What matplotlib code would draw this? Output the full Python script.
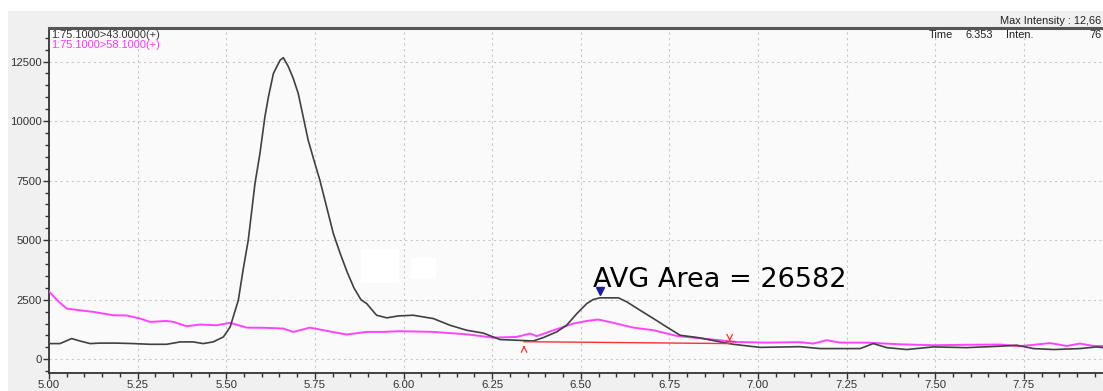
import matplotlib.pyplot as plt
from matplotlib.patches import Rectangle
from matplotlib.ticker import MultipleLocator

# m/z 75.1 > 43.0 trace (black)
t_43 = [5.000, 5.031, 5.064, 5.087, 5.116, 5.144, 5.190, 5.238, 5.285, 5.332, 5.370,
        5.407, 5.435, 5.463, 5.492, 5.511, 5.534, 5.548, 5.562, 5.581, 5.595, 5.609,
        5.619, 5.633, 5.652, 5.661, 5.675, 5.689, 5.703, 5.717, 5.731, 5.750, 5.764,
        5.783, 5.802, 5.820, 5.840, 5.860, 5.880, 5.896, 5.924, 5.953, 5.985, 6.027,
        6.084, 6.131, 6.178, 6.225, 6.272, 6.319, 6.366, 6.394, 6.432, 6.460, 6.489,
        6.517, 6.535, 6.554, 6.606, 6.630, 6.667, 6.705, 6.742, 6.780, 6.836, 6.893,
        6.930, 7.006, 7.118, 7.175, 7.250, 7.288, 7.325, 7.363, 7.419, 7.494, 7.588,
        7.683, 7.730, 7.777, 7.833, 7.908, 7.955, 7.973]
i_43 = [660, 660, 870, 770, 660, 680, 680, 660, 630, 630, 730,
        730, 660, 730, 940, 1360, 2480, 3800, 5000, 7380, 8640, 10180,
        11020, 12000, 12560, 12660, 12290, 11790, 11160, 10180, 9200, 8220, 7520,
        6400, 5280, 4500, 3700, 3000, 2500, 2340, 1850, 1740, 1820, 1850,
        1710, 1430, 1220, 1100, 830, 800, 770, 910, 1150, 1430, 1920,
        2340, 2510, 2580, 2580, 2410, 2060, 1710, 1360, 1010, 900, 730,
        630, 500, 530, 450, 450, 450, 660, 490, 410, 520, 490,
        550, 590, 450, 410, 450, 520, 490]

# m/z 75.1 > 58.1 trace (magenta)
t_58 = [5.000, 5.025, 5.050, 5.087, 5.125, 5.181, 5.219, 5.257, 5.285, 5.332, 5.351,
        5.388, 5.426, 5.473, 5.511, 5.558, 5.614, 5.661, 5.689, 5.736, 5.774, 5.840,
        5.896, 5.943, 5.990, 6.084, 6.178, 6.253, 6.319, 6.357, 6.376, 6.423, 6.479,
        6.517, 6.549, 6.592, 6.648, 6.705, 6.771, 6.836, 6.893, 6.930, 7.025, 7.118,
        7.156, 7.194, 7.231, 7.306, 7.400, 7.494, 7.588, 7.683, 7.739, 7.824, 7.871,
        7.908, 7.946, 7.973]
i_58 = [2850, 2450, 2130, 2060, 1990, 1850, 1840, 1710, 1570, 1610, 1570,
        1390, 1460, 1430, 1530, 1330, 1320, 1290, 1150, 1330, 1220, 1040,
        1150, 1150, 1180, 1150, 1050, 910, 940, 1080, 970, 1220, 1500,
        1610, 1670, 1530, 1330, 1220, 980, 880, 800, 730, 700, 720,
        660, 800, 700, 700, 630, 590, 610, 620, 550, 680, 560,
        660, 560, 560]

# integration of the 6.55 min peak
peak_start = (6.34, 740)
peak_end = (6.92, 660)
peak_top = (6.553, 2860)
avg_area = 26582

fig = plt.figure(figsize=(11.03, 3.91), dpi=100, facecolor='white')
fig.patches.append(Rectangle((8 / 1103, 0), 1, 380 / 391, transform=fig.transFigure,
                             facecolor='#f0f0f0', edgecolor='none', zorder=-1))
ax = fig.add_axes([49 / 1103, 18 / 391, 1 - 49 / 1103, 345 / 391])
ax.set_facecolor('#fafafa')

ax.plot(t_58, i_58, color='#ff44ff', lw=1.4, zorder=3)
ax.plot(t_43, i_43, color='#404040', lw=1.2, zorder=4)

# baseline and peak markers
ax.plot([peak_start[0], peak_end[0]], [peak_start[1], peak_end[1]], color='#ff3030', lw=1.0, zorder=5)
ax.plot(peak_top[0], peak_top[1], marker='v', color='#1c1c9c', ms=6, zorder=6)
ax.annotate('', xy=(peak_start[0], peak_start[1] - 40), xytext=(peak_start[0], peak_start[1] - 330),
            arrowprops=dict(arrowstyle='->', color='#ff3030', lw=0.9), zorder=6)
ax.annotate('', xy=(peak_end[0], peak_end[1] - 20), xytext=(peak_end[0], peak_end[1] + 250),
            arrowprops=dict(arrowstyle='->', color='#ff3030', lw=0.9), zorder=6)
ax.plot(peak_end[0], peak_end[1] + 110, marker='_', color='#ff3030', ms=7, mew=1.0, zorder=6)

ax.text(6.535, 3030, f'AVG Area = {avg_area}', fontsize=19.5, family='DejaVu Sans',
        color='black', va='baseline', ha='left', zorder=7)

# white boxes over the trace area
ax.add_patch(Rectangle((5.880, 3193), 0.107, 1429, facecolor='white', edgecolor='none', zorder=8))
ax.add_patch(Rectangle((6.021, 3361), 0.071, 883, facecolor='white', edgecolor='none', zorder=8))

ax.set_xlim(5.0, 7.973)
ax.set_ylim(-575, 13907)
ax.xaxis.set_major_locator(MultipleLocator(0.25))
ax.xaxis.set_minor_locator(MultipleLocator(0.05))
ax.yaxis.set_major_locator(MultipleLocator(2500))
ax.yaxis.set_minor_locator(MultipleLocator(500))
ax.xaxis.set_major_formatter(lambda v, p: f'{v:.2f}')
ax.grid(True, which='major', color='#c8c8c8', linestyle=(0, (2, 3)), lw=0.8)

ax.tick_params(axis='both', which='both', direction='out', colors='#333333',
               labelsize=8.2, labelcolor='#333333', pad=1)
ax.tick_params(axis='both', which='major', length=4, width=1)
ax.tick_params(axis='both', which='minor', length=3, width=1)
for lbl in ax.get_xticklabels() + ax.get_yticklabels():
    lbl.set_family('Liberation Sans')

for side in ['left', 'bottom']:
    ax.spines[side].set_color('#333333')
    ax.spines[side].set_linewidth(1.3)
ax.spines['top'].set_color('#555555')
ax.spines['top'].set_linewidth(2.2)
ax.spines['right'].set_visible(False)

# trace labels and header
fig.text(51 / 1103, 1 - 34.5 / 391, '1:75.1000>43.0000(+)', fontsize=7.9,
         family='Liberation Sans', color='#333333', va='center', ha='left')
fig.text(51 / 1103, 1 - 45.5 / 391, '1:75.1000>58.1000(+)', fontsize=7.9,
         family='Liberation Sans', color='#ff33ff', va='center', ha='left')
fig.text(1000 / 1103, 1 - 21 / 391, 'Max Intensity : 12,66', fontsize=7.9,
         family='Liberation Sans', color='#222222', va='center', ha='left')
for x_px, s in [(929, 'Time'), (966, '6.353'), (1006, 'Inten.')]:
    fig.text(x_px / 1103, 1 - 35 / 391, s, fontsize=7.9, family='Liberation Sans',
             color='#222222', va='center', ha='left')
fig.text(1102 / 1103, 1 - 35 / 391, '76', fontsize=7.9, family='Liberation Sans',
         color='#222222', va='center', ha='right')

fig.savefig('out.png', dpi=100, facecolor=fig.get_facecolor())
